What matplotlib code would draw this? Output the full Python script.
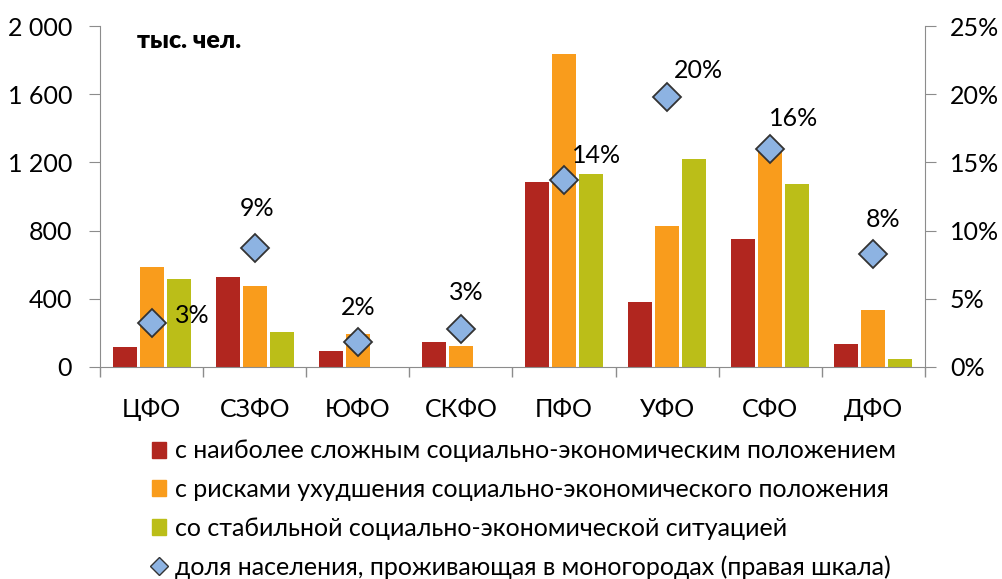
import matplotlib
matplotlib.use("Agg")
import matplotlib.pyplot as plt
import numpy as np
from matplotlib.lines import Line2D
from matplotlib.patches import Patch

plt.rcParams['font.family'] = ['Lato', 'DejaVu Sans']

# data
regions = ['ЦФО', 'СЗФО', 'ЮФО', 'СКФО', 'ПФО', 'УФО', 'СФО', 'ДФО']
hard = [117, 528, 94, 147, 1085, 381, 751, 135]
risk = [587, 475, 192, 123, 1836, 827, 1265, 334]
stable = [516, 205, 0, 0, 1132, 1220, 1073, 48]
share = [3.2, 8.7, 1.8, 2.8, 13.7, 19.8, 16.0, 8.3]
share_labels = ['3%', '9%', '2%', '3%', '14%', '20%', '16%', '8%']
series_names = ['с наиболее сложным социально-экономическим положением',
                'с рисками ухудшения социально-экономического положения',
                'со стабильной социально-экономической ситуацией',
                'доля населения, проживающая в моногородах (правая шкала)']

c_red = '#B1261F'
c_orange = '#F99C1C'
c_green = '#BBBE18'
c_marker = '#8DB3E2'
grey = '#8C8C8C'
fs = 18

fig = plt.figure(figsize=(10.03, 5.79), dpi=100)
ax = fig.add_axes([100 / 1003, 212 / 579, 825 / 1003, 341 / 579])
ax2 = ax.twinx()

x = np.arange(len(regions))
w = 0.233
step = 0.262
ax.bar(x - step, hard, w, color=c_red)
ax.bar(x, risk, w, color=c_orange)
ax.bar(x + step, stable, w, color=c_green)

ax.set_xlim(-0.5, len(regions) - 0.5)
ax.set_ylim(0, 2000)
ax.set_yticks([0, 400, 800, 1200, 1600, 2000])
ax.set_yticklabels(['0', '400', '800', '1 200', '1 600', '2 000'])
ax.set_xticks(x)
ax.set_xticklabels(regions)
ax.set_xticks(np.arange(len(regions) + 1) - 0.5, minor=True)
ax.tick_params(axis='x', which='major', length=0, pad=22, labelsize=fs)
ax.tick_params(axis='x', which='minor', length=7, color=grey, width=1)
ax.tick_params(axis='y', length=8, color=grey, labelsize=fs, pad=12)

ax2.set_ylim(0, 25)
ax2.set_yticks([0, 5, 10, 15, 20, 25])
ax2.set_yticklabels(['0%', '5%', '10%', '15%', '20%', '25%'])
ax2.tick_params(axis='y', length=8, color=grey, labelsize=fs, pad=10)
ax2.plot(x, share, linestyle='none', marker='D', markersize=14,
         markerfacecolor=c_marker, markeredgecolor='#333333', markeredgewidth=1.3,
         zorder=5)

offsets = [(41, 8), (2, 40), (0, 35), (5, 36), (32, 25), (31, 26), (23, 30), (10, 34)]
for xi, yi, lab, off in zip(x, share, share_labels, offsets):
    ax2.annotate(lab, (xi, yi), xytext=off, textcoords='offset pixels',
                 ha='center', va='center', fontsize=fs)

for a in (ax, ax2):
    a.spines['top'].set_visible(False)
    for s in ('left', 'right', 'bottom'):
        a.spines[s].set_color(grey)
ax.spines['right'].set_visible(False)
ax2.spines['left'].set_visible(False)
ax2.spines['bottom'].set_visible(False)

ax.text(0.045, 0.955, 'тыс. чел.', transform=ax.transAxes, fontsize=fs,
        fontweight='heavy', va='center', ha='left')

handles = [Patch(color=c_red), Patch(color=c_orange), Patch(color=c_green),
           Line2D([], [], linestyle='none', marker='D', markersize=9,
                  markerfacecolor=c_marker, markeredgecolor='#333333')]
fig.legend(handles, series_names, loc='upper left', bbox_to_anchor=(140 / 1003, 1 - 427 / 579),
           frameon=False, fontsize=fs, handlelength=0.55, handleheight=0.6,
           handletextpad=0.35, labelspacing=0.62, borderpad=0)

fig.savefig('out.png', dpi=100)
